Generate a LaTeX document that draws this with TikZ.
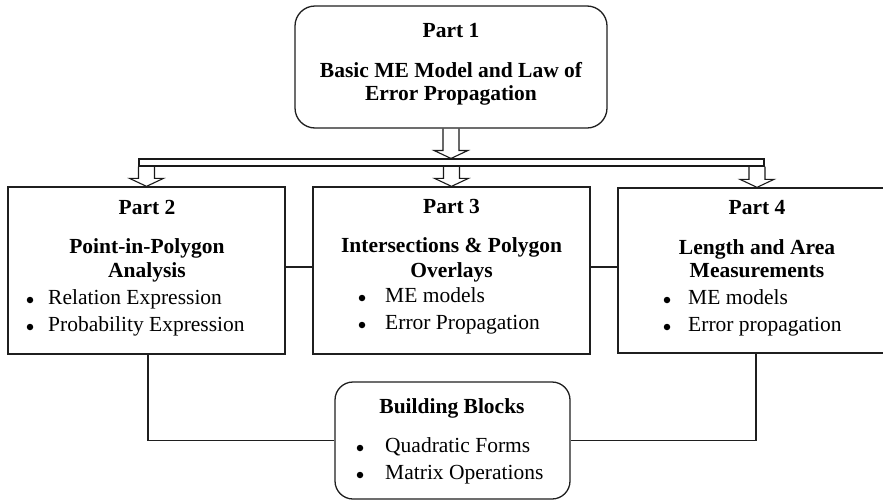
\documentclass[tikz,border=0pt]{standalone}
\usepackage{fontspec}
\setmainfont{Liberation Serif}
\usetikzlibrary{calc}
\tikzset{
  boxline/.style={draw=black!88, line width=1.3pt},
  sqbox/.style={boxline, rectangle, inner sep=0pt},
  rbox/.style={boxline, rectangle, inner sep=0pt},
  link/.style={draw=black!88, line width=1.2pt},
  arr/.style={draw=black!90, line width=1.1pt, line join=miter},
  txt/.style={inner sep=0pt, text height=14pt, text depth=4.5pt, font=\fontsize{21.5}{24}\selectfont},
  ttl/.style={txt, font=\bfseries\fontsize{21.5}{24}\selectfont},
  itm/.style={txt, anchor=west},
  bul/.style={circle, fill=black, inner sep=0pt, minimum size=6.5pt}
}
\newcommand\myblockarrow[2]{%
  \draw[arr] ($(#1)+(-8,0)$) -- ($(#2)+(-8,-8)$) -- ($(#2)+(-17,-8)$) -- (#2)
     -- ($(#2)+(17,-8)$) -- ($(#2)+(8,-8)$) -- ($(#1)+(8,0)$);}
\begin{document}
\begin{tikzpicture}[x=1pt,y=-1pt]
\useasboundingbox (0,0) rectangle (883,501);
% boxes
\node[rbox, rounded corners=20pt, minimum width=312pt, minimum height=122pt] (p1) at (451,67) {};
\node[sqbox, minimum width=277pt, minimum height=167pt] (p2) at (146.5,270.5) {};
\node[sqbox, minimum width=277pt, minimum height=167pt] (p3) at (451.5,270.5) {};
\node[sqbox, minimum width=278pt, minimum height=165pt] (p4) at (757,270.5) {};
\node[rbox, rounded corners=18pt, minimum width=235pt, minimum height=117pt] (bb) at (452.5,440.5) {};
% distribution bar
\node[draw=black!90, line width=1.1pt, fill=white, rectangle, inner sep=0pt,
      minimum width=625pt, minimum height=7pt] (bar) at (451.5,162.5) {};
% block arrows
\coordinate (t1) at (p1.south |- bar.north);
\myblockarrow{p1.south}{t1}
\coordinate (s2) at (p2.north |- bar.south);
\coordinate (s3) at (p3.north |- bar.south);
\coordinate (s4) at (p4.north |- bar.south);
\myblockarrow{s2}{p2.north}
\myblockarrow{s3}{p3.north}
\myblockarrow{s4}{p4.north}
% connectors
\draw[link] ([yshift=3.5pt]p2.east) -- ([yshift=3.5pt]p3.west);
\draw[link] ([yshift=3.5pt]p3.east) -- ([yshift=3.5pt]p4.west);
\draw[link] ([xshift=1.5pt]p2.south) |- (bb.west);
\draw[link] ([xshift=-1pt]p4.south) |- (bb.east);
% Part 1 text
\node[ttl] (p1a) at (451,33) {Part 1};
\node[ttl] (p1b) at (451,73) {Basic ME Model and Law of};
\node[ttl] (p1c) at (451,96) {Error Propagation};
% Part 2 text
\node[ttl] (p2a) at (147,210) {Part 2};
\node[ttl] (p2b) at (147,249) {Point-in-Polygon};
\node[ttl] (p2c) at (147,273) {Analysis};
\node[bul] (p2d) at (30,300) {};
\node[itm] (p2e) at (48,300) {Relation Expression};
\node[bul] (p2f) at (30,327) {};
\node[itm] (p2g) at (48,327) {Probability Expression};
% Part 3 text
\node[ttl] (p3a) at (451.5,209) {Part 3};
\node[ttl] (p3b) at (451.5,248) {Intersections \& Polygon};
\node[ttl] (p3c) at (451.5,273) {Overlays};
\node[bul] (p3d) at (362,298) {};
\node[itm] (p3e) at (385,298) {ME models};
\node[bul] (p3f) at (362,325) {};
\node[itm] (p3g) at (385,325) {Error Propagation};
% Part 4 text
\node[ttl] (p4a) at (757,210) {Part 4};
\node[ttl] (p4b) at (757,250) {Length and Area};
\node[ttl] (p4c) at (757,273) {Measurements};
\node[bul] (p4d) at (667,300) {};
\node[itm] (p4e) at (688,300) {ME models};
\node[bul] (p4f) at (667,327) {};
\node[itm] (p4g) at (688,327) {Error propagation};
% Building blocks text
\node[ttl] (bba) at (452,409) {Building Blocks};
\node[bul] (bbb) at (360,448) {};
\node[itm] (bbc) at (385,448) {Quadratic Forms};
\node[bul] (bbd) at (360,475) {};
\node[itm] (bbe) at (385,475) {Matrix Operations};
\end{tikzpicture}
\end{document}
